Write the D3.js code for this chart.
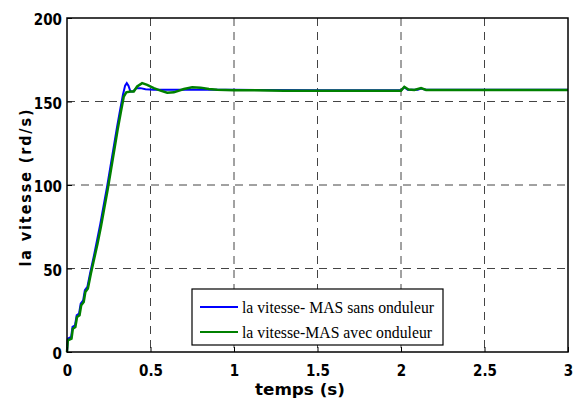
<!DOCTYPE html>
<html>
<head>
<meta charset="utf-8">
<script src="https://cdn.jsdelivr.net/npm/d3@7"></script>
<style>
  body { margin: 0; background: #fff; }
  svg { display: block; }
</style>
</head>
<body>
<div id="chart"></div>
<script>
// ticks
const xTicks = [0, 0.5, 1, 1.5, 2, 2.5, 3];
const yTicks = [0, 50, 100, 150, 200];

// series: [temps, vitesse]
const sansOnduleur = [
  [0, 0], [0.005, 8], [0.025, 9], [0.033, 15], [0.048, 16], [0.058, 22], [0.072, 23],
  [0.082, 29], [0.097, 31], [0.107, 37], [0.122, 39], [0.14, 48], [0.16, 57], [0.18, 67],
  [0.2, 77], [0.22, 88], [0.24, 99], [0.26, 111], [0.28, 123], [0.3, 135], [0.32, 146],
  [0.335, 154], [0.348, 159.5], [0.358, 161], [0.368, 159.5], [0.38, 156], [0.395, 156],
  [0.415, 158], [0.44, 158], [0.47, 157.3], [0.52, 157], [1.0, 157], [1.5, 156.8],
  [2.0, 156.8], [2.02, 158.5], [2.04, 157], [2.1, 157], [2.12, 157.8], [2.15, 157], [3.0, 157]
];
const avecOnduleur = [
  [0, 0], [0.005, 7], [0.027, 8], [0.035, 14], [0.05, 15], [0.06, 21], [0.075, 22],
  [0.085, 28], [0.1, 30], [0.11, 36], [0.125, 38], [0.143, 47], [0.163, 56], [0.183, 65],
  [0.203, 75], [0.223, 86], [0.243, 97], [0.263, 109], [0.283, 121], [0.303, 133],
  [0.323, 144], [0.34, 153], [0.355, 155.5], [0.38, 156], [0.4, 156], [0.42, 159],
  [0.45, 161], [0.48, 160], [0.52, 158], [0.56, 156.5], [0.6, 155.3], [0.64, 155.5],
  [0.7, 157.5], [0.75, 158.5], [0.8, 158.3], [0.85, 157.5], [0.9, 157], [1.0, 156.8],
  [1.3, 156.5], [2.0, 156.5], [2.02, 158.8], [2.045, 157.2], [2.08, 156.9], [2.12, 158],
  [2.15, 156.9], [3.0, 156.9]
];

const legendLabels = ["la vitesse- MAS sans onduleur", "la vitesse-MAS avec onduleur"];
const colors = ["#0000ff", "#008000"];

const W = 584, H = 410,
  M = { t: 18, r: 16, b: 58, l: 67 },
  w = W - M.l - M.r,
  h = H - M.t - M.b;

const svg = d3.select("#chart").append("svg")
  .attr("width", W).attr("height", H);
const g = svg.append("g").attr("transform", `translate(${M.l},${M.t})`);

const x = d3.scaleLinear().domain([0, 3]).range([0, w]);
const y = d3.scaleLinear().domain([0, 200]).range([h, 0]);

// grid
g.append("g").selectAll("line").data(xTicks.slice(1, -1)).join("line")
  .attr("x1", d => x(d)).attr("x2", d => x(d))
  .attr("y1", 0).attr("y2", h)
  .attr("stroke", "#444").attr("stroke-dasharray", "8,6").attr("stroke-width", 1);
g.append("g").selectAll("line").data(yTicks.slice(1, -1)).join("line")
  .attr("y1", d => y(d)).attr("y2", d => y(d))
  .attr("x1", 0).attr("x2", w)
  .attr("stroke", "#444").attr("stroke-dasharray", "8,6").attr("stroke-width", 1);

// lines
const line = d3.line().x(d => x(d[0])).y(d => y(d[1]));
g.append("path").datum(sansOnduleur)
  .attr("fill", "none").attr("stroke", colors[0]).attr("stroke-width", 2).attr("d", line);
g.append("path").datum(avecOnduleur)
  .attr("fill", "none").attr("stroke", colors[1]).attr("stroke-width", 2.5).attr("d", line);

// legend
const lg = g.append("g").attr("transform", `translate(${192 - M.l},${289 - M.t})`);
lg.append("rect").attr("width", 251).attr("height", 56)
  .attr("fill", "#fff").attr("stroke", "#000").attr("stroke-width", 1.2);
legendLabels.forEach((t, i) => {
  const yy = 18 + i * 25;
  lg.append("line").attr("x1", 8).attr("x2", 46).attr("y1", yy).attr("y2", yy)
    .attr("stroke", colors[i]).attr("stroke-width", 2);
  lg.append("text").attr("x", 50).attr("y", yy + 6)
    .attr("textLength", i === 0 ? 192 : 190).attr("lengthAdjust", "spacingAndGlyphs")
    .style("font-family", "'Liberation Serif'").style("font-size", "17px")
    .text(t);
});

// frame
g.append("rect").attr("width", w).attr("height", h)
  .attr("fill", "none").attr("stroke", "#000").attr("stroke-width", 1.5);

// axes
const xAx = g.append("g").attr("transform", `translate(0,${h})`)
  .call(d3.axisBottom(x).tickValues(xTicks).tickSizeInner(-5).tickSizeOuter(0).tickPadding(13).tickFormat(d3.format("")));
const yAx = g.append("g")
  .call(d3.axisLeft(y).tickValues(yTicks).tickSizeInner(-5).tickSizeOuter(0).tickPadding(5));
[xAx, yAx].forEach(a => {
  a.select(".domain").remove();
  a.selectAll("line").attr("stroke", "#000");
  a.selectAll("text").attr("fill", "#000")
    .style("font-family", "'DejaVu Sans Condensed', 'DejaVu Sans'").style("font-weight", "bold").style("font-size", "15px");
});
yAx.selectAll("text").attr("dy", "0.45em");

// axis titles
svg.append("text")
  .attr("x", 300).attr("y", 395)
  .attr("text-anchor", "middle")
  .attr("textLength", 90).attr("lengthAdjust", "spacingAndGlyphs")
  .style("font-family", "'DejaVu Sans'").style("font-weight", "bold").style("font-size", "16px")
  .text("temps (s)");
svg.append("text")
  .attr("transform", `translate(31,188) rotate(-90)`)
  .attr("text-anchor", "middle")
  .attr("textLength", 157).attr("lengthAdjust", "spacing")
  .style("font-family", "'DejaVu Sans Condensed', 'DejaVu Sans'").style("font-weight", "bold").style("font-size", "16px")
  .text("la vitesse (rd/s)");
</script>
</body>
</html>
